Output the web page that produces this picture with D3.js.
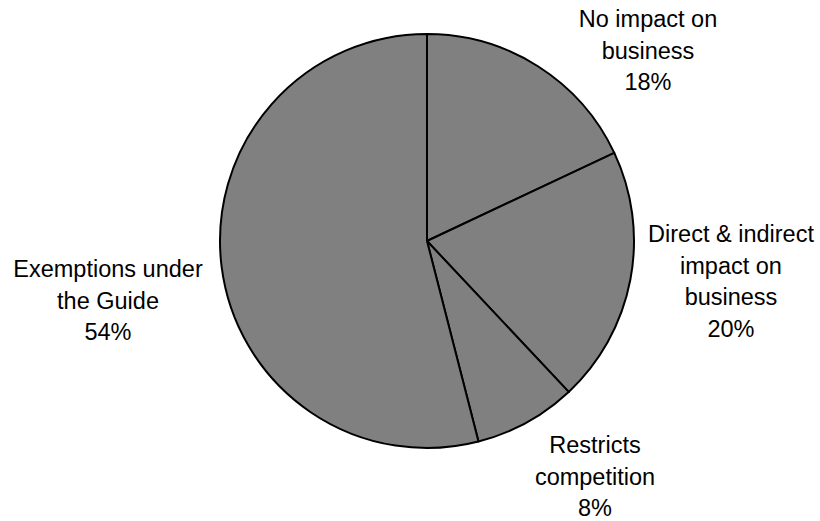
<!DOCTYPE html>
<html>
<head>
<meta charset="utf-8">
<script src="https://cdn.jsdelivr.net/npm/d3@7"></script>
<style>
  html, body { margin: 0; padding: 0; background: #fff; }
  svg { display: block; }
</style>
</head>
<body>
<svg id="chart" width="820" height="521"></svg>
<script>
// Share of items by assessment outcome
const categories = ["No impact on business", "Direct & indirect impact on business", "Restricts competition", "Exemptions under the Guide"];
const labelLines = [["No impact on", "business"], ["Direct & indirect", "impact on", "business"], ["Restricts", "competition"], ["Exemptions under", "the Guide"]];
const values = [18, 20, 8, 54];

const width = 820, height = 521;
const cx = 427, cy = 241, radius = 207;

const svg = d3.select("#chart");
const g = svg.append("g").attr("transform", `translate(${cx},${cy})`);

const pie = d3.pie().sort(null).value(d => d)(values);
const arc = d3.arc().innerRadius(0).outerRadius(radius);

g.selectAll("path.slice")
  .data(pie)
  .join("path")
  .attr("class", "slice")
  .attr("d", arc)
  .attr("fill", "#808080")
  .attr("stroke", "#000")
  .attr("stroke-width", 2)
  .attr("stroke-linejoin", "round");

// label anchors (centre x, first baseline), relative to pie centre
const labelPos = [
  { x: 221, y: -214 },
  { x: 304, y: 1 },
  { x: 168, y: 212 },
  { x: -319, y: 36 }
];
const lineH = 31.5;

pie.forEach((d, i) => {
  const lines = labelLines[i].concat([d3.format("d")(values[i]) + "%"]);
  const t = g.append("text")
    .attr("text-anchor", "middle")
    .attr("font-family", "'Liberation Sans', Arial, sans-serif")
    .attr("font-size", 23.5)
    .attr("fill", "#000");
  lines.forEach((ln, j) => {
    t.append("tspan")
      .attr("x", labelPos[i].x)
      .attr("y", labelPos[i].y + j * lineH)
      .text(ln);
  });
});
</script>
</body>
</html>
